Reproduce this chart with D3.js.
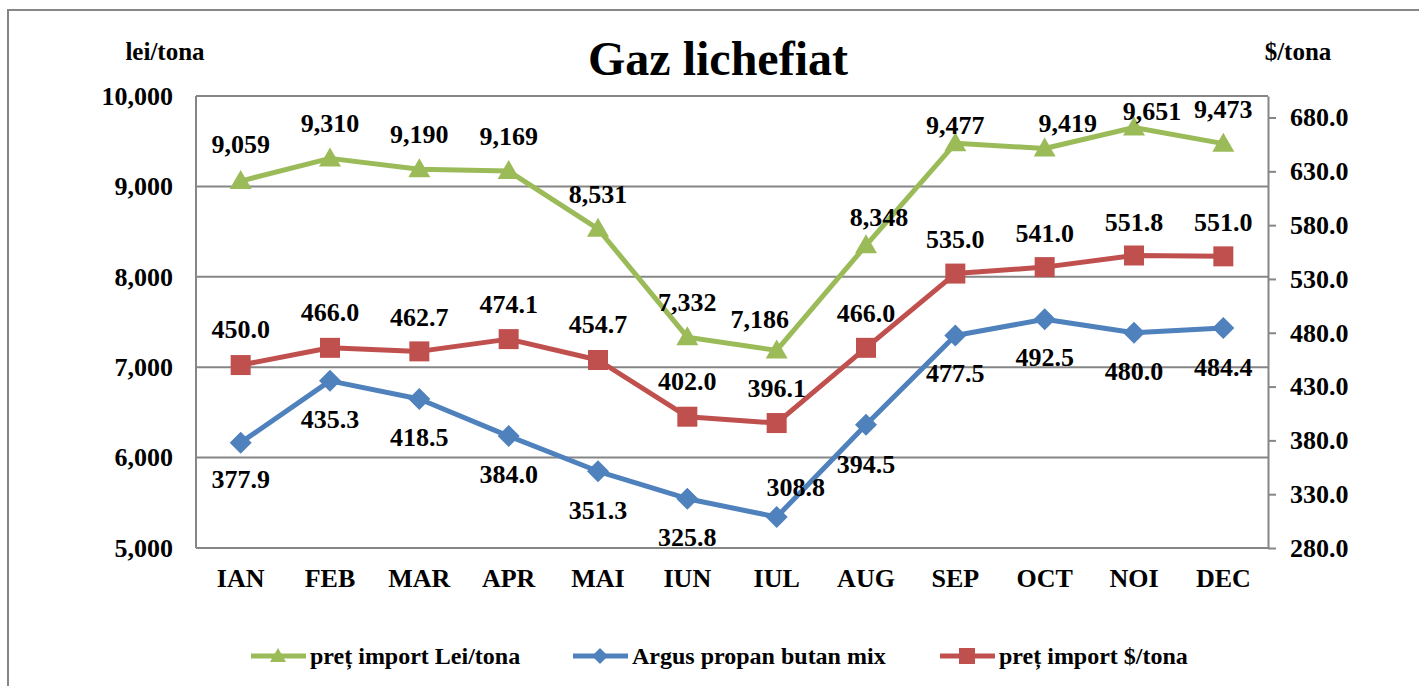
<!DOCTYPE html>
<html>
<head>
<meta charset="utf-8">
<script src="https://cdn.jsdelivr.net/npm/d3@7"></script>
<style>
  body { margin: 0; background: #fff; }
</style>
</head>
<body>
<div id="chart"></div>
<script>
// data
var months = ["IAN", "FEB", "MAR", "APR", "MAI", "IUN", "IUL", "AUG", "SEP", "OCT", "NOI", "DEC"];
var pretLei = [9059, 9310, 9190, 9169, 8531, 7332, 7186, 8348, 9477, 9419, 9651, 9473];
var argus = [377.9, 435.3, 418.5, 384.0, 351.3, 325.8, 308.8, 394.5, 477.5, 492.5, 480.0, 484.4];
var pretUsd = [450.0, 466.0, 462.7, 474.1, 454.7, 402.0, 396.1, 466.0, 535.0, 541.0, 551.8, 551.0];
var leftTicks = [5000, 6000, 7000, 8000, 9000, 10000];
var rightTicks = [280, 330, 380, 430, 480, 530, 580, 630, 680];
var seriesNames = ["preț import Lei/tona", "Argus propan butan mix", "preț import $/tona"];

var W = 1419, H = 686;
var m = { left: 196, right: 1268, top: 96, bottom: 548 };
var green = "#9BBB59", blue = "#4F81BD", red = "#C0504D", grid = "#868686";
var FONT = "'Liberation Serif', 'Times New Roman', Times, serif";

var svg = d3.select("#chart").append("svg")
	.attr("width", W)
	.attr("height", H);

svg.append("rect").attr("width", W).attr("height", H).attr("fill", "#fff");

// outer chart border (only left + top fall inside the window)
svg.append("rect")
	.attr("x", 8).attr("y", 10)
	.attr("width", W + 20).attr("height", H + 20)
	.attr("fill", "none").attr("stroke", grid).attr("stroke-width", 2);

var x = d3.scaleBand().domain(months).range([m.left, m.right]);
var yL = d3.scaleLinear().domain([5000, 10000]).range([m.bottom, m.top]);
var yR = d3.scaleLinear().domain([280, 700]).range([m.bottom, m.top]);
function cx(d, i) { return x(months[i]) + x.bandwidth() / 2; }

function txt(sel, size) {
	sel.style("font-family", FONT)
		.style("font-weight", "bold")
		.style("font-size", size + "px")
		.attr("fill", "#000");
}

// gridlines
svg.append("g").selectAll("line")
	.data(leftTicks)
	.enter().append("line")
	.attr("x1", m.left).attr("x2", m.right)
	.attr("y1", function(d) { return yL(d); })
	.attr("y2", function(d) { return yL(d); })
	.attr("stroke", grid).attr("stroke-width", 2);

svg.append("line")
	.attr("x1", m.left).attr("x2", m.left)
	.attr("y1", m.top).attr("y2", m.bottom)
	.attr("stroke", grid).attr("stroke-width", 2);

// left axis
var gl = svg.append("g")
	.attr("transform", "translate(" + m.left + ",0)")
	.call(d3.axisLeft(yL).tickValues(leftTicks).tickFormat(d3.format(",")).tickSize(0).tickPadding(23));
gl.select(".domain").remove();
gl.selectAll("text").call(txt, 26);

// right axis
var gr = svg.append("g")
	.attr("transform", "translate(" + m.right + ",0)")
	.call(d3.axisRight(yR).tickValues(rightTicks).tickFormat(d3.format(".1f")).tickSize(8).tickSizeOuter(0).tickPadding(14));
gr.select(".domain").attr("stroke", grid).attr("stroke-width", 2);
gr.selectAll(".tick line").attr("stroke", grid).attr("stroke-width", 2);
gr.selectAll("text").call(txt, 26);

// bottom axis
var gb = svg.append("g")
	.attr("transform", "translate(0," + m.bottom + ")")
	.call(d3.axisBottom(x).tickSize(0).tickPadding(21));
gb.select(".domain").remove();
gb.selectAll("text").call(txt, 26);

// title + axis titles
svg.append("text").attr("x", 718).attr("y", 75).attr("text-anchor", "middle")
	.call(txt, 48).text("Gaz lichefiat");
svg.append("text").attr("x", 165).attr("y", 60).attr("text-anchor", "middle")
	.call(txt, 25).text("lei/tona");
svg.append("text").attr("x", 1298).attr("y", 60).attr("text-anchor", "middle")
	.call(txt, 25).text("$/tona");

// markers
var tri = "M0,-11L11,8L-11,8Z";
var sq = "M-10,-10H10V10H-10Z";
var dia = "M0,-11L11,0L0,11L-11,0Z";

var series = [
	{ vals: pretLei, y: yL, color: green, shape: tri, fmt: d3.format(","),
	  off: [[0,-37],[0,-35],[0,-35],[0,-35],[0,-35],[0,-35],[-17,-31],[13,-28],[0,-18],[23,-26],[18,-17],[0,-35]] },
	{ vals: argus, y: yR, color: blue, shape: dia, fmt: d3.format(".1f"),
	  off: [[0,36],[0,38],[0,38],[0,38],[0,39],[0,38],[19,-30],[0,39],[0,37],[0,38],[0,38],[0,39]] },
	{ vals: pretUsd, y: yR, color: red, shape: sq, fmt: d3.format(".1f"),
	  off: [[0,-36],[0,-36],[0,-34],[0,-35],[0,-36],[0,-36],[0,-35],[0,-35],[0,-35],[0,-34],[0,-34],[0,-34]] }
];

series.forEach(function(s) {
	var line = d3.line()
		.x(function(d, i) { return cx(d, i); })
		.y(function(d) { return s.y(d); });
	svg.append("path")
		.datum(s.vals)
		.attr("d", line)
		.attr("fill", "none")
		.attr("stroke", s.color)
		.attr("stroke-width", 5)
		.attr("stroke-linejoin", "round");
	svg.append("g").selectAll("path")
		.data(s.vals)
		.enter().append("path")
		.attr("d", s.shape)
		.attr("fill", s.color)
		.attr("transform", function(d, i) { return "translate(" + cx(d, i) + "," + s.y(d) + ")"; });
});

series.forEach(function(s) {
	svg.append("g").selectAll("text")
		.data(s.vals)
		.enter().append("text")
		.attr("x", function(d, i) { return cx(d, i) + s.off[i][0]; })
		.attr("y", function(d, i) { return s.y(d) + s.off[i][1]; })
		.attr("dy", "0.35em")
		.attr("text-anchor", "middle")
		.call(txt, 26)
		.text(function(d) { return s.fmt(d); });
});

// legend
var legX = [251, 573, 940];
var legShapes = [
	"M0,-8L8,6L-8,6Z",
	"M0,-8L8,0L0,8L-8,0Z",
	"M-8,-8H8V8H-8Z"
];
var leg = svg.append("g").selectAll("g")
	.data(seriesNames)
	.enter().append("g")
	.attr("transform", function(d, i) { return "translate(" + legX[i] + ",656)"; });
leg.append("line")
	.attr("x1", 0).attr("x2", 55)
	.attr("stroke", function(d, i) { return series[i].color; })
	.attr("stroke-width", 5);
leg.append("path")
	.attr("d", function(d, i) { return legShapes[i]; })
	.attr("transform", "translate(27,0)")
	.attr("fill", function(d, i) { return series[i].color; });
leg.append("text")
	.attr("x", 59).attr("dy", "0.35em")
	.call(txt, 24)
	.text(function(d) { return d; });
</script>
</body>
</html>
